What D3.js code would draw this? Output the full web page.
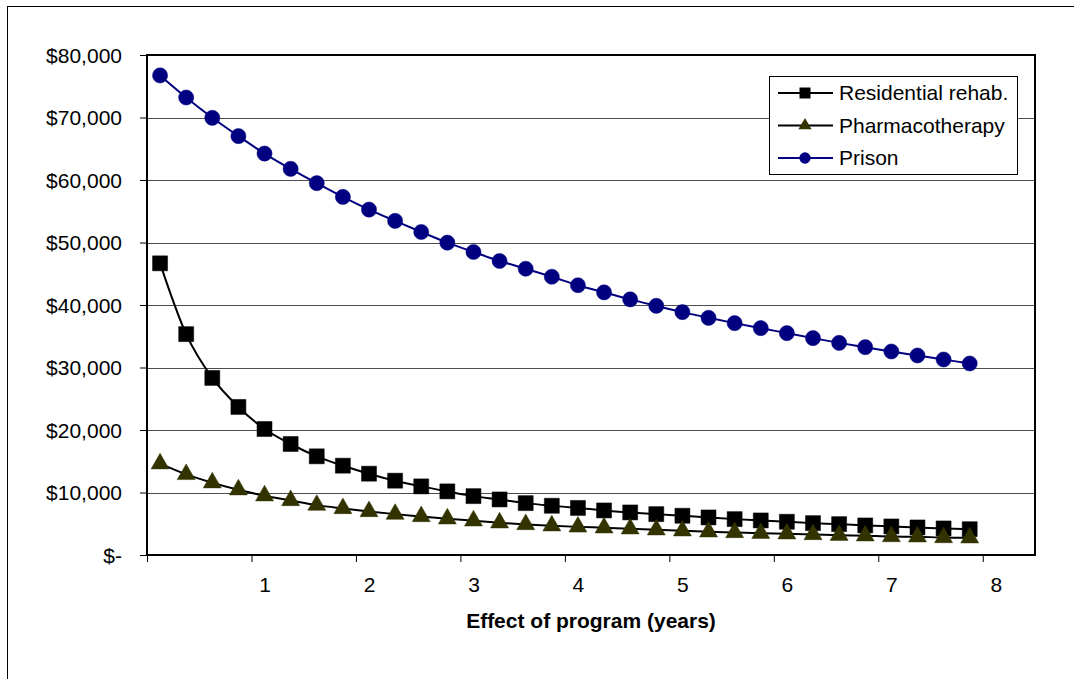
<!DOCTYPE html>
<html>
<head>
<meta charset="utf-8">
<script src="https://cdn.jsdelivr.net/npm/d3@7"></script>
<style>
  body { margin: 0; background: #fff; }
  text { font-family: Arial, "Liberation Sans", sans-serif; fill: #000; }
</style>
</head>
<body>
<svg width="1074" height="679"></svg>
<script>
// quarter-year steps along the category axis
const years = [0, 0.25, 0.5, 0.75, 1, 1.25, 1.5, 1.75, 2, 2.25, 2.5, 2.75, 3, 3.25, 3.5, 3.75,
               4, 4.25, 4.5, 4.75, 5, 5.25, 5.5, 5.75, 6, 6.25, 6.5, 6.75, 7, 7.25, 7.5, 7.75];

const residential = [46670, 35340, 28330, 23690, 20160, 17760, 15790, 14290, 13010, 11890, 10980, 10180,
                     9420, 8890, 8300, 7880, 7530, 7130, 6810, 6540, 6280, 6010, 5740, 5530,
                     5320, 5100, 4940, 4730, 4570, 4410, 4250, 4130];

const pharma = [14610, 12900, 11570, 10450, 9490, 8730, 7980, 7450, 6970, 6540, 6170, 5800,
                5480, 5160, 4890, 4680, 4500, 4360, 4200, 4040, 3880, 3720, 3610, 3490,
                3400, 3290, 3170, 3080, 2960, 2920, 2800, 2760];

const prison = [76730, 73200, 69950, 67020, 64230, 61780, 59490, 57290, 55260, 53450, 51680, 49970,
                48480, 47040, 45800, 44520, 43160, 42020, 40900, 39870, 38860, 37950, 37100, 36300,
                35500, 34700, 33940, 33250, 32560, 31920, 31280, 30640];

const yTicks = [0, 10000, 20000, 30000, 40000, 50000, 60000, 70000, 80000];
const xLabels = [1, 2, 3, 4, 5, 6, 7, 8];
const xTickMarks = [-0.125, 0.875, 1.875, 2.875, 3.875, 4.875, 5.875, 6.875, 7.875];

const series = [
  { name: 'Residential rehab.', values: residential, line: '#000000', fill: '#000000', symbol: d3.symbolSquare, size: 225, legSize: 121 },
  { name: 'Pharmacotherapy', values: pharma, line: '#000000', fill: '#333300', symbol: d3.symbolTriangle, size: 140, legSize: 75 },
  { name: 'Prison', values: prison, line: '#000080', fill: '#000080', symbol: d3.symbolCircle, size: 180, legSize: 100 }
];

const plot = { left: 147, right: 1035, top: 55, bottom: 555 };

const svg = d3.select('svg');

// outer chart border (only top and left visible)
svg.append('rect')
  .attr('x', 7.5).attr('y', 6.5)
  .attr('width', 1200).attr('height', 800)
  .attr('fill', 'none').attr('stroke', '#000').attr('stroke-width', 1);

const x = d3.scaleLinear().domain([-0.125, 8.375]).range([plot.left, plot.right]);
const y = d3.scaleLinear().domain([0, 80000]).range([plot.bottom, plot.top]);

// gridlines
svg.append('g')
  .selectAll('line')
  .data(yTicks.slice(1, -1))
  .enter()
  .append('line')
  .attr('x1', plot.left).attr('x2', plot.right)
  .attr('y1', d => Math.round(y(d)) + 0.5).attr('y2', d => Math.round(y(d)) + 0.5)
  .attr('stroke', '#4d4d4d').attr('stroke-width', 1);

// y axis
const yAxis = svg.append('g')
  .attr('transform', `translate(${plot.left},0)`)
  .call(d3.axisLeft(y).tickValues(yTicks).tickSize(7).tickPadding(18)
    .tickFormat(d => d === 0 ? '$-' : '$' + d3.format(',')(d)));
yAxis.select('.domain').remove();
yAxis.selectAll('line').attr('stroke', '#000');
yAxis.selectAll('text').style('font-size', '21px').attr('dy', '0.35em');

// x axis: tick marks between categories, labels on categories
const xMarks = svg.append('g')
  .attr('transform', `translate(0,${plot.bottom})`)
  .call(d3.axisBottom(x).tickValues(xTickMarks).tickSize(7).tickFormat(''));
xMarks.select('.domain').remove();
xMarks.selectAll('line').attr('stroke', '#000');

const xAxis = svg.append('g')
  .attr('transform', `translate(0,${plot.bottom})`)
  .call(d3.axisBottom(x).tickValues(xLabels).tickSize(0).tickPadding(22));
xAxis.select('.domain').remove();
xAxis.selectAll('text').style('font-size', '21px');

// plot area frame
svg.append('rect')
  .attr('x', plot.left).attr('y', plot.top)
  .attr('width', plot.right - plot.left).attr('height', plot.bottom - plot.top)
  .attr('fill', 'none').attr('stroke', '#000').attr('stroke-width', 2);

// series lines and markers
const line = d3.line()
  .x((d, i) => x(years[i]))
  .y(d => y(d))
  .curve(d3.curveCatmullRom.alpha(0));

series.forEach(s => {
  svg.append('path')
    .datum(s.values)
    .attr('d', line)
    .attr('fill', 'none')
    .attr('stroke', s.line)
    .attr('stroke-width', 2);

  svg.append('g')
    .selectAll('path')
    .data(s.values)
    .enter()
    .append('path')
    .attr('d', d3.symbol().type(s.symbol).size(s.size))
    .attr('transform', (d, i) => `translate(${x(years[i])},${y(d)})`)
    .attr('fill', s.fill)
    .attr('stroke', s.fill)
    .attr('stroke-width', 0.5);
});

// axis title
svg.append('text')
  .attr('x', (plot.left + plot.right) / 2)
  .attr('y', 628)
  .attr('text-anchor', 'middle')
  .style('font-size', '21px')
  .style('font-weight', 'bold')
  .text('Effect of program (years)');

// legend
const legend = svg.append('g').attr('transform', 'translate(769,76)');
legend.append('rect')
  .attr('x', 0.5).attr('y', 0.5)
  .attr('width', 248).attr('height', 98)
  .attr('fill', '#fff').attr('stroke', '#000').attr('stroke-width', 1);

const rows = legend.selectAll('.row')
  .data(series)
  .enter()
  .append('g')
  .attr('class', 'row')
  .attr('transform', (d, i) => `translate(0,${17 + i * 32.5})`);

rows.append('line')
  .attr('x1', 9).attr('x2', 64)
  .attr('stroke', d => d.line).attr('stroke-width', 2);

rows.append('path')
  .attr('d', d => d3.symbol().type(d.symbol).size(d.legSize)())
  .attr('transform', 'translate(36,0)')
  .attr('fill', d => d.fill);

rows.append('text')
  .attr('x', 70)
  .attr('dy', '0.35em')
  .style('font-size', '21px')
  .text(d => d.name);
</script>
</body>
</html>
